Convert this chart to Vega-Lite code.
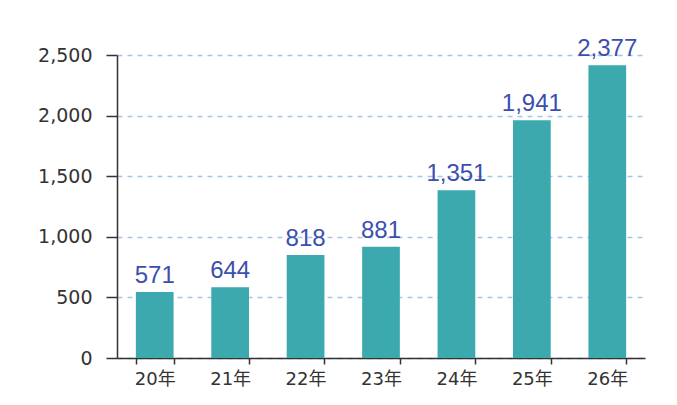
{
  "$schema": "https://vega.github.io/schema/vega-lite/v6.json",
  "autosize": {"type": "none"},
  "width": 528,
  "height": 303,
  "padding": {"left": 117, "top": 55, "right": 32, "bottom": 47},
  "background": "#ffffff",
  "config": {"view": {"stroke": null}},
  "data": {
    "values": [
      {"year": "20年", "bar": 545, "label": 571},
      {"year": "21年", "bar": 583, "label": 644},
      {"year": "22年", "bar": 850, "label": 818},
      {"year": "23年", "bar": 918, "label": 881},
      {"year": "24年", "bar": 1384, "label": 1351},
      {"year": "25年", "bar": 1961, "label": 1941},
      {"year": "26年", "bar": 2415, "label": 2377}
    ]
  },
  "encoding": {
    "x": {
      "field": "year",
      "type": "nominal",
      "sort": null,
      "scale": {"paddingInner": 0.5, "paddingOuter": 0.25},
      "axis": {
        "title": null,
        "labelAngle": 0,
        "tickBand": "extent",
        "tickSize": 6,
        "tickColor": "#333333",
        "tickWidth": 1.5,
        "domainColor": "#333333",
        "domainWidth": 1.5,
        "labelFont": "DejaVu Sans, Noto Sans CJK JP",
        "labelFontSize": 18,
        "labelColor": "#333333",
        "labelPadding": 6,
        "grid": false
      }
    },
    "y": {
      "field": "bar",
      "type": "quantitative",
      "scale": {"domain": [0, 2500], "nice": false},
      "axis": {
        "title": null,
        "values": [0, 500, 1000, 1500, 2000, 2500],
        "format": ",d",
        "tickSize": 11,
        "tickColor": "#333333",
        "tickWidth": 1.5,
        "domainColor": "#333333",
        "domainWidth": 1.5,
        "labelFont": "DejaVu Sans",
        "labelFontSize": 19,
        "labelColor": "#333333",
        "labelPadding": 14,
        "grid": true,
        "gridColor": "#a4c6ea",
        "gridDash": [5, 5],
        "gridWidth": 1.5
      }
    }
  },
  "layer": [
    {"mark": {"type": "bar", "color": "#3ba9ad"}},
    {
      "mark": {
        "type": "text",
        "dy": -9,
        "baseline": "alphabetic",
        "font": "Liberation Sans",
        "fontSize": 24,
        "color": "#3b4fae"
      },
      "encoding": {"text": {"field": "label", "type": "quantitative", "format": ",d"}}
    }
  ]
}
